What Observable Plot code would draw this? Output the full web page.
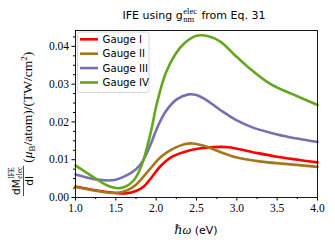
<!DOCTYPE html>
<html>
<head>
<meta charset="utf-8">
<script src="https://cdn.jsdelivr.net/npm/d3@7"></script>
<script src="https://cdn.jsdelivr.net/npm/@observablehq/plot@0.6"></script>
<style>
  html, body { margin: 0; padding: 0; background: white; }
</style>
</head>
<body>
<div id="chart"></div>
<script>
// ---- data ----
const seriesNames = ["Gauge I", "Gauge II", "Gauge III", "Gauge IV"];
const seriesColors = ["#ff0000", "#a6761d", "#7570b3", "#66a61e"];

const gaugeI_x = [1.0,1.25,1.5,1.62,1.75,1.85,1.95,2.05,2.2,2.4,2.6,2.8,2.9,3.2,3.5,4.0];
const gaugeI_y = [0.0029,0.0019,0.0012,0.0011,0.0017,0.0030,0.0055,0.0082,0.0108,0.0124,0.0131,0.0134,0.0133,0.0120,0.0108,0.0093];

const gaugeII_x = [1.0,1.25,1.45,1.55,1.65,1.75,1.85,1.95,2.05,2.2,2.35,2.45,2.6,2.8,3.0,3.3,3.6,4.0];
const gaugeII_y = [0.0028,0.0018,0.0012,0.0013,0.0020,0.0034,0.0057,0.0082,0.0106,0.0128,0.0141,0.0143,0.0136,0.0120,0.0106,0.0095,0.0089,0.0081];

const gaugeIII_x = [1.0,1.25,1.4,1.5,1.62,1.75,1.83,1.93,2.02,2.12,2.25,2.4,2.5,2.65,2.8,3.0,3.2,3.5,3.75,4.0];
const gaugeIII_y = [0.0061,0.0048,0.0045,0.0047,0.0057,0.0075,0.0095,0.0140,0.0188,0.0228,0.0259,0.0273,0.0271,0.0254,0.0231,0.0204,0.0185,0.0167,0.0156,0.0147];

const gaugeIV_x = [1.0,1.25,1.38,1.5,1.6,1.72,1.82,1.93,2.01,2.12,2.24,2.36,2.5,2.65,2.8,2.96,3.13,3.42,3.75,4.0];
const gaugeIV_y = [0.0085,0.0050,0.0033,0.0025,0.0027,0.0045,0.0085,0.0170,0.0250,0.0330,0.0380,0.0410,0.0428,0.0427,0.0412,0.0380,0.0347,0.0300,0.0268,0.0245];

const xTicks = [1.0, 1.5, 2.0, 2.5, 3.0, 3.5, 4.0];
const xMinorTicks = [1.25, 1.75, 2.25, 2.75, 3.25, 3.75];
const yTicks = [0.00, 0.01, 0.02, 0.03, 0.04];
const yMinorTicks = [0.0025,0.005,0.0075,0.0125,0.015,0.0175,0.0225,0.025,0.0275,0.0325,0.035,0.0375,0.0425];

// ---- build table ----
const xsAll = [gaugeI_x, gaugeII_x, gaugeIII_x, gaugeIV_x];
const ysAll = [gaugeI_y, gaugeII_y, gaugeIII_y, gaugeIV_y];
const rows = [];
seriesNames.forEach((name, i) => {
  xsAll[i].forEach((x, j) => rows.push({series: name, x, y: ysAll[i][j]}));
});

const serif = "'Liberation Serif', 'DejaVu Serif', serif";
const sans = "'DejaVu Sans', sans-serif";

const plot = Plot.plot({
  width: 335,
  height: 245,
  marginLeft: 75,
  marginRight: 18,
  marginTop: 30,
  marginBottom: 48,
  style: {background: "white", color: "black", fontFamily: serif, fontSize: "11.5px"},
  x: {domain: [1, 4]},
  y: {domain: [0, 0.0442]},
  color: {domain: seriesNames, range: seriesColors},
  marks: [
    Plot.line(rows, {x: "x", y: "y", z: "series", stroke: "series", strokeWidth: 2.6, curve: "catmull-rom"}),
    Plot.frame({stroke: "black", strokeWidth: 0.9}),
    Plot.axisX({ticks: xTicks, tickFormat: d => d.toFixed(1), tickSize: 3.5, tickPadding: 3, label: null, fontSize: 11.5}),
    Plot.axisX({ticks: xMinorTicks, tickFormat: () => "", tickSize: 2, label: null}),
    Plot.axisY({ticks: yTicks, tickFormat: d => d.toFixed(2), tickSize: 3.5, tickPadding: 3, label: null, fontSize: 11.5}),
    Plot.axisY({ticks: yMinorTicks, tickFormat: () => "", tickSize: 2, label: null})
  ]
});

document.getElementById("chart").appendChild(plot);
const svg = d3.select(plot);

// ---- title ----
const title = svg.append("g").attr("font-family", sans).attr("font-size", 11).attr("fill", "black").attr("text-anchor", "start");
const t1 = title.append("text").attr("y", 19).text("IFE using g");
const t2sup = title.append("text").attr("y", 13.5).attr("font-family", serif).attr("font-size", 8.5).text("elec");
const t2sub = title.append("text").attr("y", 22).attr("font-family", serif).attr("font-size", 8.5).text("nm");
const t3 = title.append("text").attr("y", 19).text("from Eq. 31");
{
  const w1 = t1.node().getComputedTextLength();
  const ws = Math.max(t2sup.node().getComputedTextLength(), t2sub.node().getComputedTextLength());
  const w3 = t3.node().getComputedTextLength();
  const gap = 4.5;
  const total = w1 + 0.5 + ws + gap + w3;
  const x0 = 194 - total / 2;
  t1.attr("x", x0);
  t2sup.attr("x", x0 + w1 + 0.5);
  t2sub.attr("x", x0 + w1 + 0.5);
  t3.attr("x", x0 + w1 + 0.5 + ws + gap);
}

// ---- x label ----
const xl = svg.append("text").attr("y", 234).attr("text-anchor", "middle").attr("x", 196).attr("fill", "black");
xl.append("tspan").attr("font-family", serif).attr("font-style", "italic").attr("font-size", 12.5).text("ℏω");
xl.append("tspan").attr("font-family", sans).attr("font-size", 11).text(" (eV)");

// ---- y label (rotated) ----
const yl = svg.append("g").attr("transform", "translate(0,197) rotate(-90)").attr("fill", "black").attr("text-anchor", "start");
const u0 = 2;
const nd = yl.append("text").attr("x", u0).attr("y", 20).attr("font-family", sans).attr("font-size", 10.5).text("dM");
const wnd = nd.node().getComputedTextLength();
const ns1 = yl.append("text").attr("x", u0 + wnd + 0.5).attr("y", 13.5).attr("font-family", serif).attr("font-size", 7.5).text("IFE");
const ns2 = yl.append("text").attr("x", u0 + wnd + 0.5).attr("y", 22).attr("font-family", serif).attr("font-size", 7.5).text("elec");
const numW = wnd + 0.5 + Math.max(ns1.node().getComputedTextLength(), ns2.node().getComputedTextLength());
yl.append("line").attr("x1", u0 - 1).attr("x2", u0 + numW + 1).attr("y1", 23.5).attr("y2", 23.5).attr("stroke", "black").attr("stroke-width", 0.7);
yl.append("text").attr("x", u0 + numW / 2).attr("y", 33).attr("text-anchor", "middle").attr("font-family", sans).attr("font-size", 10.5).text("dI");
const restX = u0 + numW + 4;
const rest = yl.append("text").attr("x", restX).attr("y", 32).attr("font-family", serif).attr("font-size", 13.5);
rest.append("tspan").text("(");
rest.append("tspan").attr("font-style", "italic").text("μ");
rest.append("tspan").attr("font-size", 9).attr("dy", 2.5).text("B");
rest.append("tspan").attr("dy", -2.5).text("/atom)/(TW/cm");
rest.append("tspan").attr("font-size", 9).attr("dy", -5).text("2");
rest.append("tspan").attr("dy", 5).text(")");

// ---- legend ----
const lg = svg.append("g").attr("font-family", sans).attr("font-size", 10.2).attr("text-anchor", "start");
lg.append("rect").attr("x", 77.5).attr("y", 32).attr("width", 71.5).attr("height", 60.5).attr("rx", 2.5)
  .attr("fill", "white").attr("fill-opacity", 0.8).attr("stroke", "#cccccc").attr("stroke-width", 0.8);
seriesNames.forEach((name, i) => {
  const yy = 39.3 + i * 14.4;
  lg.append("line").attr("x1", 80).attr("x2", 98).attr("y1", yy).attr("y2", yy)
    .attr("stroke", seriesColors[i]).attr("stroke-width", 2.6);
  lg.append("text").attr("x", 102.5).attr("y", yy + 3.7).attr("fill", "black").text(name);
});
</script>
</body>
</html>
